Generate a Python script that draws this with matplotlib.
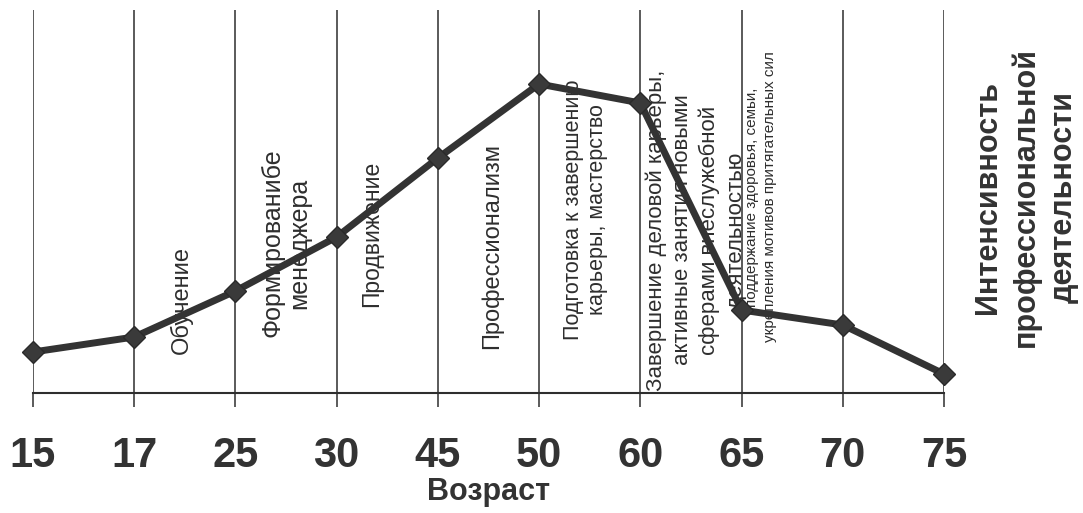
import matplotlib.pyplot as plt

# Age stages (x axis) and intensity of professional activity (arbitrary units)
ages = ["15", "17", "25", "30", "45", "50", "60", "65", "70", "75"]
intensity = [41, 56, 102, 156, 235, 309, 290, 83, 68, 19]

stage_texts = [
    "Обучение",
    "Формированибе\nменеджера",
    "Продвижение",
    "Профессионализм",
    "Подготовка к завершению\nкарьеры, мастерство",
    "Завершение деловой карьеры,\nактивные занятия новыми\nсферами внеслужебной\nдеятельностью",
    "поддержание здоровья, семьи,\nукрепления мотивов притягательных сил",
]

y_title = "Интенсивность\nпрофессиональной\nдеятельности"
x_title = "Возраст"

ink = "#2e2e2e"
narrow = ["Liberation Sans Narrow", "Liberation Sans"]
plt.rcParams["font.family"] = ["Liberation Sans", "DejaVu Sans"]

fig = plt.figure(figsize=(10.83, 5.13), dpi=100)
ax = fig.add_axes([33 / 1083, 120 / 513, 911 / 1083, 383 / 513])

xs = list(range(len(ages)))
ax.set_xlim(0, len(ages) - 1)
ax.set_ylim(0, 383)

# vertical grid lines at every age
for x in xs:
    ax.axvline(x, color=ink, lw=1.1, zorder=1)

ax.plot(xs, intensity, color="#333333", lw=5, marker="D", markersize=11.5,
        markerfacecolor="#3a3a3a", markeredgecolor="#2a2a2a", clip_on=False, zorder=3)

for side in ["left", "right", "top"]:
    ax.spines[side].set_visible(False)
ax.spines["bottom"].set_color(ink)
ax.spines["bottom"].set_linewidth(1.5)
ax.set_yticks([])
ax.set_xticks(xs)
ax.set_xticklabels(ages, fontfamily=narrow, fontweight="bold", fontsize=30, color="#333333")
ax.tick_params(axis="x", direction="out", length=10, width=1.1, color=ink, pad=21)
ax.set_xlabel(x_title, fontfamily=narrow, fontweight="bold", fontsize=22, color="#333333", labelpad=1)

# stage descriptions, rotated inside the columns
pos = [(1.47, 93, 17, 1.15), (2.50, 150, 18, 1.15), (3.35, 159, 16.5, 1.15), (4.53, 147, 17, 1.15),
       (5.46, 183, 15.5, 1.2), (6.55, 163, 16, 1.35), (7.19, 196, 11, 1.35)]
for (px, py, fs, ls), txt in zip(pos, stage_texts):
    ax.text(px, py, txt, rotation=90, ha="center", va="center", multialignment="center",
            fontsize=fs, color=ink, linespacing=ls, zorder=2)

fig.text(1026 / 1083, 1 - 197 / 513, y_title, rotation=90, ha="center", va="center",
         multialignment="center", fontsize=22, fontweight="bold", color="#333333", linespacing=1.33)

fig.savefig("out.png", dpi=100, facecolor="white")
